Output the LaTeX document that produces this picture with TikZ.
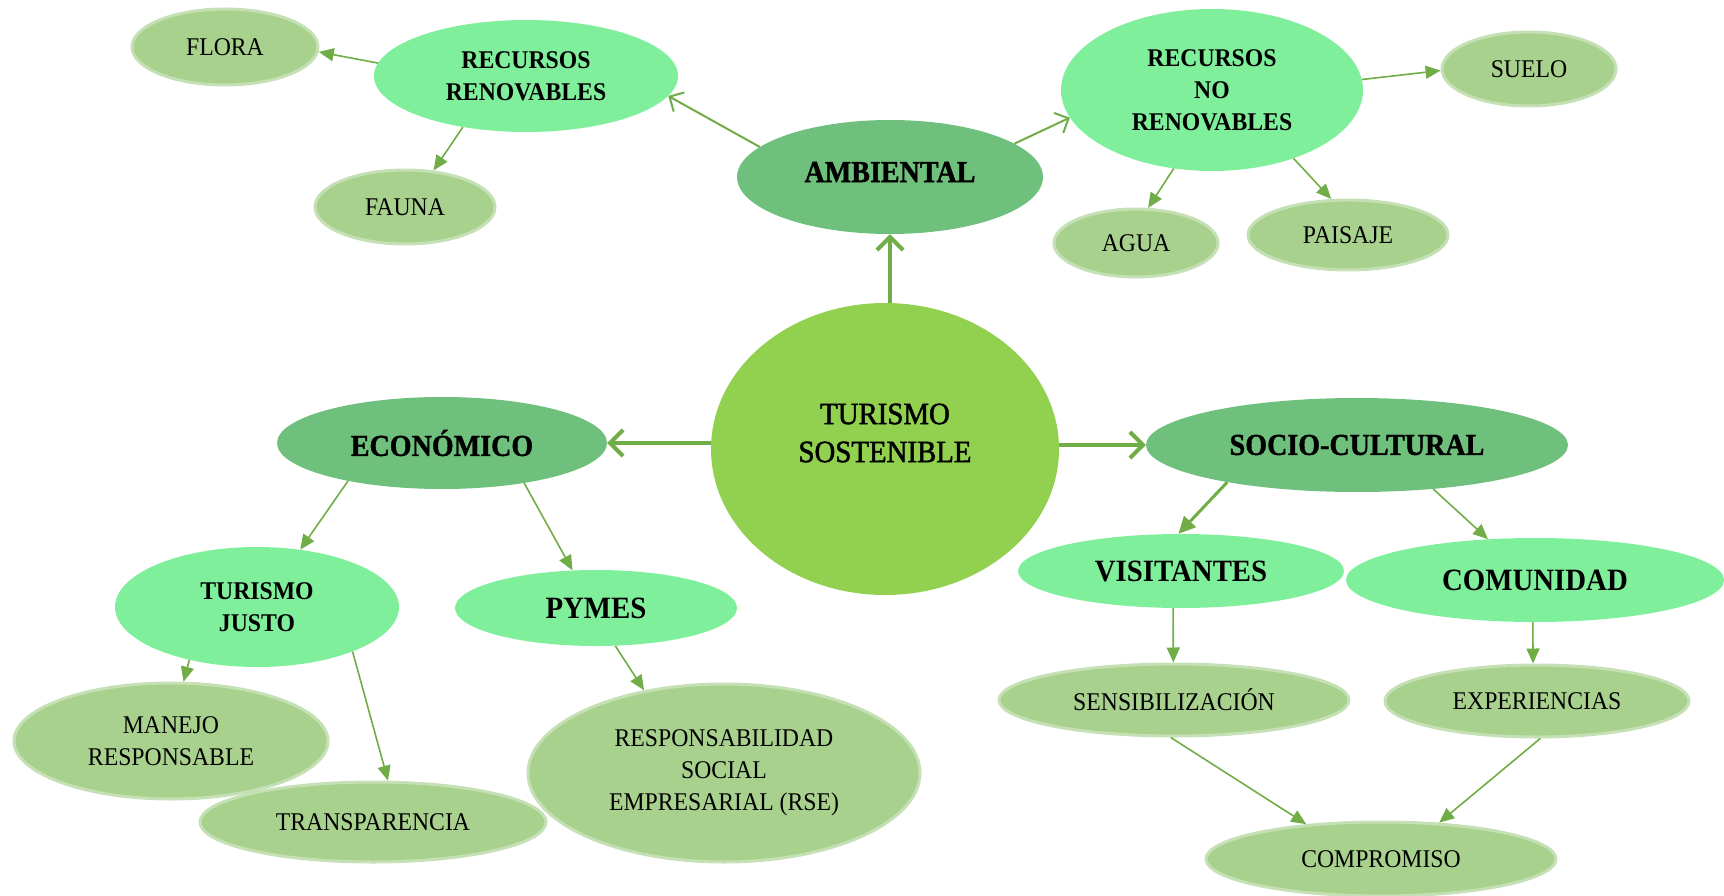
\documentclass[tikz,border=0pt]{standalone}
\usepackage{fontspec}
\setmainfont{Liberation Serif}[FakeStretch=0.93]
\newfontfamily\tsfont{Liberation Serif}[FakeStretch=0.93, FakeBold=1.6]
\newfontfamily\dimfont{Liberation Serif}[FakeStretch=0.92, FakeBold=1.2]
\usetikzlibrary{shapes.geometric,arrows.meta}
\definecolor{sage}{HTML}{A9D18E}
\definecolor{sageb}{HTML}{C5E0B4}
\definecolor{mint}{HTML}{80EF9C}
\definecolor{dkgreen}{HTML}{6EC07C}
\definecolor{core}{HTML}{92D050}
\definecolor{arrowc}{HTML}{70AD47}
\tikzset{
  el/.style={ellipse, inner sep=0pt, align=center, text=black},
  leaf/.style={el, fill=sage, draw=sageb, line width=3pt, font=\fontsize{25.5}{32}\selectfont},
  mintb/.style={el, fill=mint, font=\bfseries\fontsize{25.5}{32}\selectfont},
  mintbig/.style={el, fill=mint, font=\bfseries\fontsize{31}{36}\selectfont},
  dim/.style={el, fill=dkgreen, font=\dimfont\bfseries\fontsize{30.5}{34}\selectfont},
  corenode/.style={el, fill=core},
  bigarr/.style={draw=arrowc, line width=4pt, -{Straight Barb[length=13pt,width=26pt]}},
  medarr/.style={draw=arrowc, line width=2pt, -{Straight Barb[length=11pt,width=22pt]}},
  thinarr/.style={draw=arrowc, line width=1.6pt, -{Triangle[length=15pt,width=13pt]}},
  midarr/.style={draw=arrowc, line width=3pt, -{Triangle[length=17pt,width=16pt]}},
}
\begin{document}
\begin{tikzpicture}[x=1pt,y=-1pt]
\useasboundingbox (0,0) rectangle (1724,896);
% nodes
\node[corenode, minimum width=348pt, minimum height=292pt] (ts) at (885,449) {};
\node[font=\tsfont\fontsize{31}{38}\selectfont, align=center] (tstext) at (885,433) {TURISMO\\SOSTENIBLE};
\node[dim, minimum width=306pt, minimum height=114pt] (amb) at (890,177) {AMBIENTAL\rule[-10pt]{0pt}{1pt}};
\node[dim, minimum width=330pt, minimum height=92pt] (eco) at (442,443) {ECONÓMICO};
\node[dim, minimum width=422pt, minimum height=94pt] (soc) at (1357,445) {SOCIO-CULTURAL};

\node[mintb, minimum width=304pt, minimum height=112pt] (rr) at (526,76) {RECURSOS\\RENOVABLES};
\node[mintb, minimum width=302pt, minimum height=162pt] (rnr) at (1212,90) {RECURSOS\\NO\\RENOVABLES};
\node[mintb, minimum width=284pt, minimum height=120pt] (tj) at (257,607) {TURISMO\\JUSTO};
\node[mintbig, minimum width=282pt, minimum height=76pt] (pymes) at (596,608) {PYMES};
\node[mintbig, minimum width=326pt, minimum height=74pt] (vis) at (1181,571) {VISITANTES};
\node[mintbig, minimum width=378pt, minimum height=84pt] (com) at (1535,580) {COMUNIDAD};

\node[leaf, minimum width=186pt, minimum height=76pt] (flora) at (225,47) {FLORA};
\node[leaf, minimum width=180pt, minimum height=74pt] (fauna) at (405,207) {FAUNA};
\node[leaf, minimum width=174pt, minimum height=74pt] (suelo) at (1529,69) {SUELO};
\node[leaf, minimum width=164pt, minimum height=68pt] (agua) at (1136,243) {AGUA};
\node[leaf, minimum width=200pt, minimum height=70pt] (paisaje) at (1348,235) {PAISAJE};
\node[leaf, minimum width=314pt, minimum height=116pt] (manejo) at (171,741) {MANEJO\\RESPONSABLE};
\node[leaf, minimum width=346pt, minimum height=80pt] (transp) at (373,822) {TRANSPARENCIA};
\node[leaf, minimum width=392pt, minimum height=178pt] (rse) at (724,773) {RESPONSABILIDAD\\SOCIAL\\EMPRESARIAL (RSE)};
\node[leaf, minimum width=350pt, minimum height=72pt] (sens) at (1174,700) {SENSIBILIZACIÓN};
\node[leaf, minimum width=304pt, minimum height=72pt] (exp) at (1537,701) {EXPERIENCIAS};
\node[leaf, minimum width=350pt, minimum height=74pt] (comp) at (1381,859) {COMPROMISO};

% main connectors
\draw[bigarr] (ts.north -| amb.south) -- (amb.south);
\draw[bigarr] (eco.east -| ts.west) -- (eco.east);
\draw[bigarr] (soc.west -| ts.east) -- (soc.west);
% ambiental
\draw[medarr] (amb.167) -- (rr.-8);
\draw[medarr] (amb.15) -- (rnr.191);
\draw[thinarr] (rr.175) -- (flora.-3);
\draw[thinarr] (rr.219) -- (fauna.52);
\draw[thinarr] (rnr.4) -- (suelo.181);
\draw[thinarr] (rnr.244) -- (agua.71);
\draw[thinarr] (rnr.-40) -- (paisaje.115);
% economico
\draw[thinarr] (eco.202) -- (tj.53);
\draw[thinarr] (eco.-26) -- (pymes.122);
\draw[thinarr] (tj.218) -- (manejo.78);
\draw[thinarr] (tj.-25) -- (transp.70);
\draw[thinarr] (pymes.-63) -- (rse.134);
% socio-cultural
\draw[midarr] (soc.196) -- (vis.94);
\draw[thinarr] (soc.-30) -- (com.139);
\draw[thinarr] (vis.258) -- (sens.91);
\draw[thinarr] (com.267) -- (exp.96);
\draw[thinarr] (sens.265) -- (comp.155);
\draw[thinarr] (exp.275) -- (comp.32);
\end{tikzpicture}
\end{document}
